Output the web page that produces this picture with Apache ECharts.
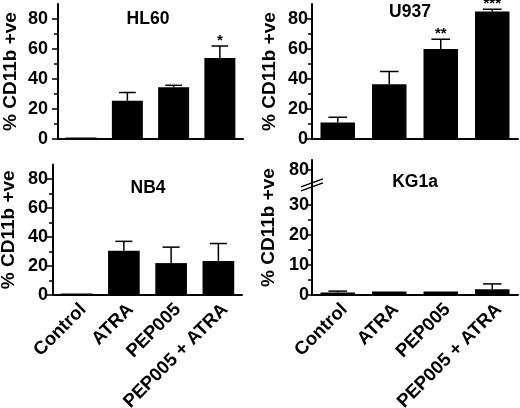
<!DOCTYPE html>
<html>
<head>
<meta charset="utf-8">
<script src="https://cdn.jsdelivr.net/npm/echarts@6/dist/echarts.min.js"></script>
<style>
  html, body { margin: 0; padding: 0; background: #fff; }
  #chart { width: 520px; height: 408px; }
</style>
</head>
<body>
<div id="chart"></div>
<script>
// data (% CD11b positive cells, mean and upper error)
const categories = ['Control', 'ATRA', 'PEP005', 'PEP005 + ATRA'];

const hl60Values = [0.5, 25.5, 34.5, 54];
const hl60Errors = [0, 5.5, 1.3, 8];
const hl60Stars = ['', '', '', '*'];

const u937Values = [11, 36.5, 60, 85];
const u937Errors = [3.5, 8.5, 6.5, 1.5];
const u937Stars = ['', '', '**', '***'];

const nb4Values = [0.3, 30.5, 22, 23.5];
const nb4Errors = [0, 6.5, 11, 12];
const nb4Stars = ['', '', '', ''];

const kg1aValues = [0.8, 1.2, 1.2, 1.9];
const kg1aErrors = [0.5, 0, 0, 1.8];
const kg1aStars = ['', '', '', ''];

const panelTitles = ['HL60', 'U937', 'NB4', 'KG1a'];
const yTicks = [0, 20, 40, 60, 80];
const yMinorTicks = [10, 30, 50, 70];
// KG1a axis is broken: 0-30 then a jump to 80
const kgTicks = [0, 10, 20, 30, 41.7];
const kgMinorTicks = [5, 15, 25];
const kgBreakAt = 36.7;

const FONT = '"Liberation Sans", Arial, sans-serif';

const panels = [
  { title: panelTitles[0], values: hl60Values, errors: hl60Errors, stars: hl60Stars,
    grid: { left: 58, top: 4, width: 185, height: 135 }, max: 90,
    labelMargin: 10, nameGap: 38, titleX: 148, titleY: 10, showX: false },
  { title: panelTitles[1], values: u937Values, errors: u937Errors, stars: u937Stars,
    grid: { left: 312, top: 4, width: 206, height: 135 }, max: 90,
    labelMargin: 4, nameGap: 33, titleX: 410, titleY: 3, showX: false },
  { title: panelTitles[2], values: nb4Values, errors: nb4Errors, stars: nb4Stars,
    grid: { left: 53, top: 164.5, width: 189, height: 130.5 }, max: 90,
    labelMargin: 5, nameGap: 35, titleX: 148, titleY: 179, showX: true },
  { title: panelTitles[3], values: kg1aValues, errors: kg1aErrors, stars: kg1aStars,
    grid: { left: 312, top: 160, width: 206, height: 135 }, max: 45,
    labelMargin: 3, nameGap: 34, titleX: 415, titleY: 173, showX: true, broken: true }
];

const chart = echarts.init(document.getElementById('chart'));

const grids = [];
const xAxes = [];
const yAxes = [];
const series = [];
const graphics = [];

panels.forEach((p, i) => {
  grids.push(Object.assign({ outerBoundsMode: 'none', containLabel: false }, p.grid));

  xAxes.push({
    type: 'category', gridIndex: i, data: categories,
    axisLine: { lineStyle: { color: '#000', width: 2 } },
    axisTick: { show: false },
    axisLabel: {
      show: p.showX, rotate: 45, margin: 5, interval: 0,
      align: 'right', verticalAlign: 'top',
      color: '#000', fontSize: 18.5, fontWeight: 'bold', fontFamily: FONT
    }
  });

  const major = p.broken ? kgTicks : yTicks;
  const minor = p.broken ? kgMinorTicks : yMinorTicks;

  yAxes.push({
    type: 'value', gridIndex: i, min: 0, max: p.max, position: 'left',
    splitLine: { show: false },
    axisLine: { show: true, lineStyle: { color: '#000', width: 2 } },
    axisTick: { show: true, length: 6, customValues: major, lineStyle: { color: '#000', width: 1.5 } },
    axisLabel: {
      customValues: major, margin: p.labelMargin,
      color: '#000', fontSize: 18, fontWeight: 'bold', fontFamily: FONT,
      formatter: v => (p.broken && v > 40 ? '80' : String(v))
    },
    name: '% CD11b +ve', nameLocation: 'middle', nameGap: p.nameGap,
    nameTextStyle: { color: '#000', fontSize: 19, fontWeight: 'bold', fontFamily: FONT }
  });
  // second axis on the same grid just for the short minor ticks
  yAxes.push({
    type: 'value', gridIndex: i, min: 0, max: p.max, position: 'left', offset: 0,
    splitLine: { show: false },
    axisLine: { show: false },
    axisTick: { show: true, length: 4, customValues: minor, lineStyle: { color: '#000', width: 1.5 } },
    axisLabel: { show: false }
  });

  series.push({
    type: 'bar', xAxisIndex: i, yAxisIndex: i * 2,
    data: p.values, barWidth: '67%', barMinHeight: 1.5,
    itemStyle: { color: '#000' }
  });

  const stars = p.stars;
  series.push({
    type: 'custom', xAxisIndex: i, yAxisIndex: i * 2, z: 5,
    data: p.values.map((v, k) => [k, v, v + p.errors[k]]),
    renderItem: (params, api) => {
      const base = api.coord([api.value(0), api.value(1)]);
      const top = api.coord([api.value(0), api.value(2)]);
      const half = api.size([1, 0])[0] * 0.67 * 0.27;
      const children = [];
      if (api.value(2) > api.value(1)) {
        children.push({ type: 'line', shape: { x1: top[0], y1: base[1], x2: top[0], y2: top[1] },
          style: { stroke: '#000', lineWidth: 1.5 } });
        children.push({ type: 'line', shape: { x1: top[0] - half, y1: top[1], x2: top[0] + half, y2: top[1] },
          style: { stroke: '#000', lineWidth: 1.5 } });
      }
      const s = stars[params.dataIndex];
      if (s) {
        children.push({ type: 'text', style: { text: s, x: top[0], y: top[1] - 5,
          align: 'center', verticalAlign: 'middle', fill: '#000',
          font: 'bold 15px ' + FONT } });
      }
      return { type: 'group', children };
    }
  });

  graphics.push({
    type: 'text', x: p.titleX, y: p.titleY,
    style: { text: p.title, fill: '#000', font: 'bold 17.5px ' + FONT, align: 'center', verticalAlign: 'top' }
  });
});

chart.setOption({
  animation: false,
  grid: grids,
  xAxis: xAxes,
  yAxis: yAxes,
  series: series
});

// axis-break marks on the KG1a y axis
const kg = panels[3];
const by = chart.convertToPixel({ yAxisIndex: 6 }, kgBreakAt);
const bx = kg.grid.left;
[-2, 2].forEach(d => {
  graphics.push({
    type: 'line', z: 10,
    shape: { x1: bx - 11, y1: by + d + 4, x2: bx + 11, y2: by + d - 4 },
    style: { stroke: '#000', lineWidth: 1.5 }
  });
});
chart.setOption({ graphic: graphics });
</script>
</body>
</html>
